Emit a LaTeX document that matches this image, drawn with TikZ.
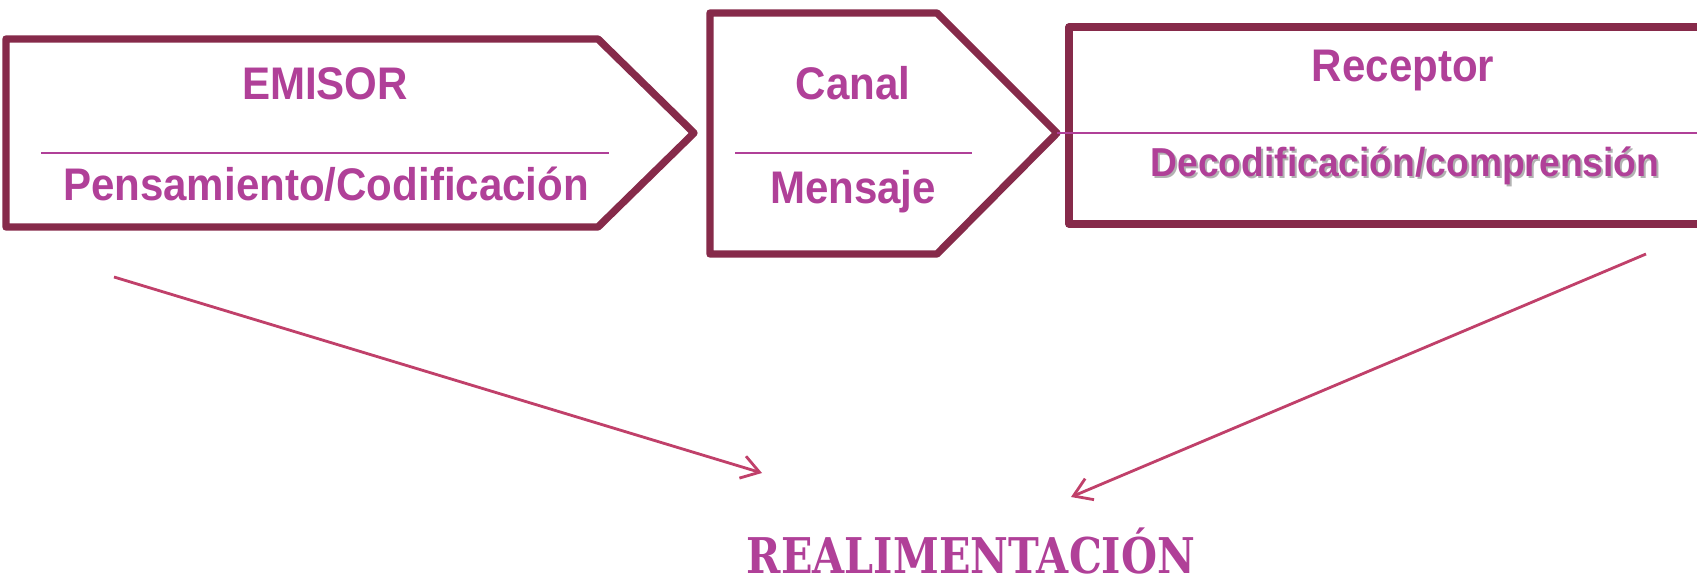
\documentclass[tikz,border=0pt]{standalone}
\usepackage{fontspec}
\setmainfont{Liberation Sans}
\newfontfamily\boxfont[FakeStretch=0.92]{Liberation Sans}
\newfontfamily\feedfont[FakeStretch=0.84]{DejaVu Serif}
\usetikzlibrary{arrows.meta}
\definecolor{frame}{RGB}{134,42,74}
\definecolor{ink}{RGB}{176,64,152}
\definecolor{feed}{RGB}{192,64,106}
\tikzset{
  block/.style={draw=frame, line width=2.1pt, line join=round},
  boxtext/.style={text=ink, inner sep=0pt, anchor=base,
    font=\boxfont\bfseries\fontsize{13}{15}\selectfont},
  sepline/.style={draw=ink, line width=0.6pt},
  feedarrow/.style={draw=feed, line width=0.8pt,
    -{Straight Barb[length=5pt,width=6.5pt,line width=0.8pt]}}
}
\begin{document}
\begin{tikzpicture}[x=0.01cm, y=-0.01cm]
  \useasboundingbox (0,0) rectangle (1697,582);
  % the three blocks
  \draw[block] (6,39) -- (598,39) -- (694,133) -- (598,227) -- (6,227) -- cycle;
  \draw[block] (710,13) -- (937,13) -- (1057,133) -- (937,254) -- (710,254) -- cycle;
  \draw[block] (1705,27) -- (1069,27) -- (1069,224) -- (1705,224);
  % separators
  \draw[sepline] (41,152.6) -- (609,152.6);
  \draw[sepline] (735,152.6) -- (972,152.6);
  \draw[sepline] (1057,133) -- (1697,133);
  % texts
  \node[boxtext] (emisor) at (325,100) {EMISOR};
  \node[boxtext] (pensamiento) at (326,201) {Pensamiento/Codificación};
  \node[boxtext] (canal) at (853,100) {Canal};
  \node[boxtext] (mensaje) at (853,203) {Mensaje};
  \node[boxtext] (receptor) at (1403,82) {Receptor};
  \node[boxtext, text=black!30, font=\boxfont\bfseries\fontsize{11.5}{14}\selectfont]
    (decod-shadow) at (1407,179) {Decodificación/comprensión};
  \node[boxtext, font=\boxfont\bfseries\fontsize{11.5}{14}\selectfont]
    (decod) at (1405,176) {Decodificación/comprensión};
  \node[text=ink, inner sep=0pt, anchor=base,
    font=\feedfont\bfseries\fontsize{14}{17}\selectfont]
    (realimentacion) at (971,573) {REALIMENTACIÓN};
  % feedback arrows
  \coordinate (from-emisor) at (114,277);
  \coordinate (to-left) at (762,473);
  \coordinate (from-receptor) at (1646,254);
  \coordinate (to-right) at (1071,497);
  \draw[feedarrow] (from-emisor) -- (to-left);
  \draw[feedarrow] (from-receptor) -- (to-right);
\end{tikzpicture}
\end{document}
